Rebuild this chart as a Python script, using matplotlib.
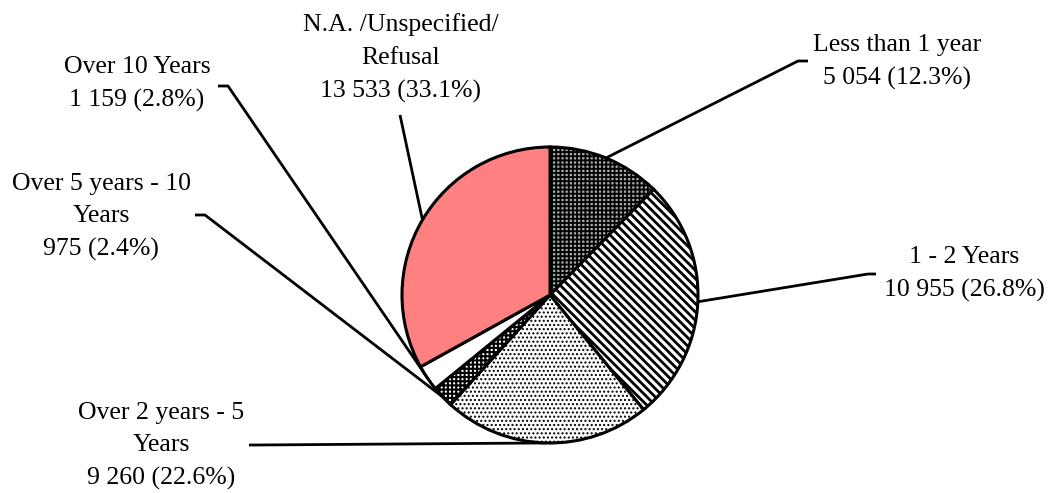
import matplotlib
matplotlib.use('Agg')
import matplotlib.pyplot as plt
import numpy as np

# data
categories = ['Less than 1 year', '1 - 2 Years', 'Over 2 years - 5\nYears',
              'Over 5 years - 10\nYears', 'Over 10 Years', 'N.A. /Unspecified/\nRefusal']
values = [5054, 10955, 9260, 975, 1159, 13533]

# styles
colors = ['#a8a8a8', 'white', 'white', 'white', 'white', '#ff8080']
hatches = ['++++', '\\\\\\\\', '....', '++++', None, None]
hatch_lw = [1.3, 2.0, 1.0, 1.5, 1.0, 1.0]

# layout, in pixels from the top left of the picture
W, H = 1053, 493
center = (550, 295)
radius = 148
label_xy = [(897, 62), (964, 274), (161, 446), (101, 217), (137, 84), (401, 58)]
hook_xy = [(808, 61, -10), (876, 274, -8), (249, 445, 8), (195, 215, 10), (218, 86, 10), (400, 115, 0)]

plt.rcParams['font.family'] = ['Liberation Serif', 'DejaVu Serif']
plt.rcParams['hatch.linewidth'] = 1.3

fig = plt.figure(figsize=(W / 100, H / 100), dpi=100)
ax = fig.add_axes([0, 0, 1, 1])

wedges, _ = ax.pie(values, startangle=90, counterclock=False,
                   center=(center[0], H - center[1]), radius=radius,
                   colors=colors,
                   wedgeprops=dict(edgecolor='black', linewidth=2.2))
for w, h, hl in zip(wedges, hatches, hatch_lw):
    if h:
        w.set_hatch(h)
        if hasattr(w, 'set_hatch_linewidth'):
            w.set_hatch_linewidth(hl)

ax.set_xlim(0, W)
ax.set_ylim(0, H)
ax.set_aspect('equal')
ax.axis('off')

total = sum(values)
for i, w in enumerate(wedges):
    mid = np.deg2rad((w.theta1 + w.theta2) / 2)
    ex = center[0] + radius * np.cos(mid)
    ey = (H - center[1]) + radius * np.sin(mid)
    hx, hy, dx = hook_xy[i]
    ax.plot([hx, hx + dx, ex], [H - hy, H - hy, ey], color='black', lw=2,
            zorder=0, solid_capstyle='butt')
    v = values[i]
    txt = categories[i] + '\n' + f'{v:,}'.replace(',', ' ') + f' ({v / total * 100:.1f}%)'
    lx, ly = label_xy[i]
    ax.text(lx, H - ly, txt, ha='center', va='center', fontsize=18.5,
            linespacing=1.62, color='black')

fig.savefig('out.png', dpi=100)
